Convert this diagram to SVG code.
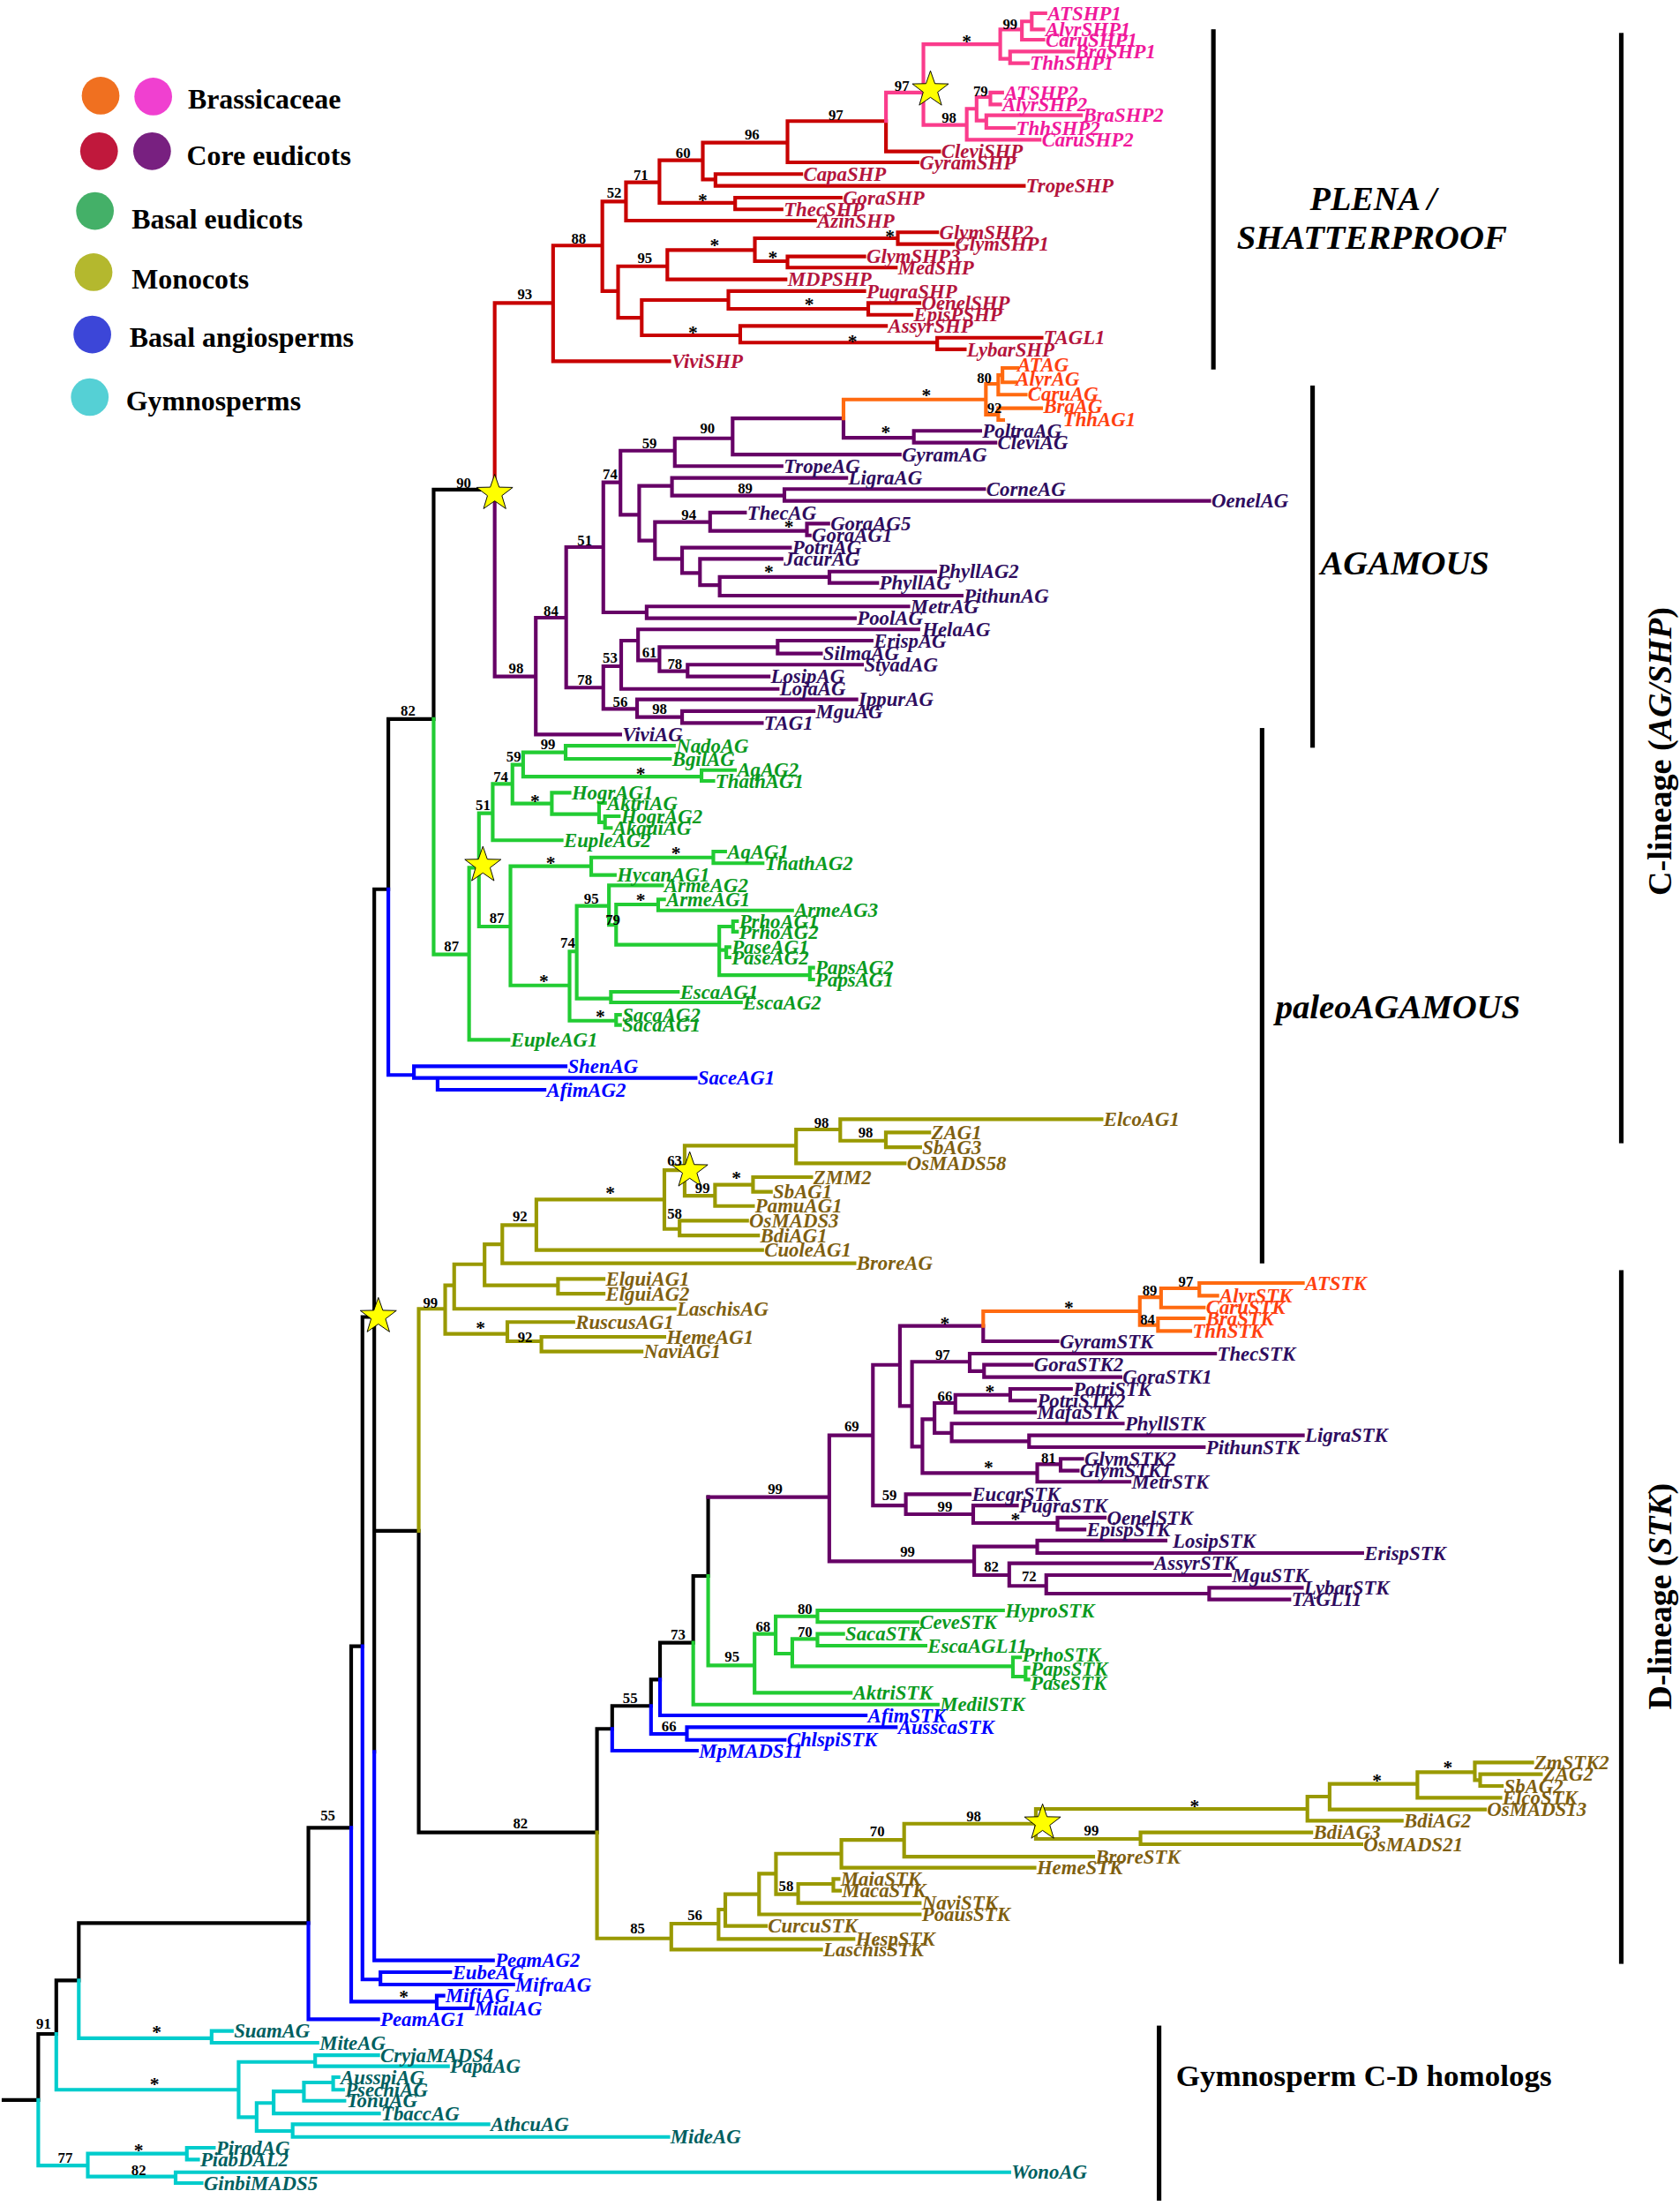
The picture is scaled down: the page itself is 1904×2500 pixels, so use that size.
<svg xmlns="http://www.w3.org/2000/svg" width="1904" height="2500" viewBox="0 0 1904 2500">
<style>
.l{fill:none;stroke-width:2.6;stroke-linecap:square;stroke-linejoin:miter}
.k{stroke:#000}.r{stroke:#C80000}.p{stroke:#FA3C8C}.o{stroke:#FF6A10}.u{stroke:#660066}.g{stroke:#22CC33}.bl{stroke:#0000FF}.ol{stroke:#999900}.c{stroke:#00CCCC}
text{font-family:"Liberation Serif","Times New Roman",serif}
.t text{font-weight:bold;font-style:italic;font-size:14.3px}
.tp{fill:#F0199B}.tr{fill:#B4143C}.to{fill:#FF4010}.tu{fill:#2E0C5E}.tg{fill:#0A9A1E}.tb{fill:#0000FF}.tol{fill:#7F5F10}.tc{fill:#005F5F}
.n text{font-weight:bold;font-size:10.5px;text-anchor:middle;fill:#000}
.a text{font-weight:bold;font-size:13.5px;text-anchor:middle;fill:#000}
.lg text{font-weight:bold;font-size:20px;fill:#000}
.hd{font-weight:bold;font-style:italic;font-size:24px;fill:#000}
.star{fill:#FFFF00;stroke:#000;stroke-width:0.6}
</style>
<defs>
<polygon id="star" class="star" points="0,-13.5 3.17,-4.37 12.84,-4.17 5.13,1.67 7.94,10.92 0,5.4 -7.94,10.92 -5.13,1.67 -12.84,-4.17 -3.17,-4.37"/>
</defs>
<rect width="1904" height="2500" fill="#fff"/>
<g transform="scale(1.5946)">
<g id="legend" class="lg">
<circle cx="71.5" cy="68" r="13.4" fill="#F07020"/><circle cx="108.9" cy="68.6" r="13.4" fill="#F040D0"/>
<circle cx="70.4" cy="107.4" r="13.4" fill="#C0183C"/><circle cx="108.1" cy="107.4" r="13.4" fill="#782080"/>
<circle cx="67.5" cy="149.9" r="13.4" fill="#44B068"/>
<circle cx="66.5" cy="193.4" r="13.4" fill="#B4B82E"/>
<circle cx="65.6" cy="237.7" r="13.4" fill="#3C46D8"/>
<circle cx="63.8" cy="282.2" r="13.4" fill="#55D0D5"/>
<text x="133.5" y="77.3">Brassicaceae</text>
<text x="132.7" y="117.5">Core eudicots</text>
<text x="93.6" y="162.6">Basal eudicots</text>
<text x="93.6" y="205.3">Monocots</text>
<text x="92" y="246.7">Basal angiosperms</text>
<text x="89.5" y="291.6">Gymnosperms</text>
</g>
<g id="connectors">
<path class="l k" d="M2.5 1492.5H27.2M27.2 1445.5V1492.5M27.2 1445.5H40M40 1407.5V1445.5M40 1407.5H56M56 1366.7V1407.5M56 1366.7H219.2M219.2 1299V1366.7M219.2 1299H249.6M249.6 1170V1299M249.6 1170H257.6M257.6 936V1170M257.6 936H266M266 632V1245M266 632H276M276 511V632M276 511H308.2M308.2 348V511M308.2 348H351.6M266 1088H297.6M297.6 1088V1302.3M297.6 1302.3H424.3M424.3 1228.7V1302.3M424.3 1228.7H435.1M435.1 1212.4V1228.7M435.1 1212.4H462.7M462.7 1193.6V1212.4M462.7 1193.6H469.1M469.1 1167.5V1193.6M469.1 1167.5H492.7M492.7 1120V1167.5M492.7 1120H503.3M503.3 1064V1120"/>
<path class="l r" d="M351.6 215.3V348M351.6 215.3H393.1M393.1 174.5V256.7M393.1 174.5H428.1M393.1 256.7H475.7M428.1 143.2V206.9M428.1 143.2H444.9M428.1 206.9H439.3M444.9 129.6V156.8M444.9 156.8H579.3M444.9 129.6H468.7M468.7 113.9V144.2M468.7 113.9H499.5M468.7 144.2H522.5M522.5 140.5V148.8M522.5 140.5H597.5M522.5 148.8H555.5M499.5 101.4V127.5M499.5 101.4H559.7M499.5 127.5H508.5M508.5 123.7V132.1M508.5 123.7H569.5M508.5 132.1H727.7M559.7 86.1V115.4M559.7 86.1H629.7M559.7 115.4H652.1M629.7 86.1V107.6M629.7 107.6H667.5M439.3 189.2V225.8M439.3 189.2H474.3M439.3 225.8H456.1M474.3 177.7V198.6M474.3 177.7H536.5M474.3 198.6H558.3M536.5 169.3V185.6M536.5 169.3H638.1M536.5 185.6H559.7M638.1 165.1V173.5M638.1 165.1H666.1M638.1 173.5H677.3M559.7 182.3V190.2M559.7 182.3H614.3M559.7 190.2H636.7M456.1 213.2V238.3M456.1 213.2H517.7M456.1 238.3H526.1M517.7 206.9V219.5M517.7 206.9H614.3M517.7 219.5H617.1M617.1 215.3V223.7M617.1 215.3H653.5M617.1 223.7H647.9M526.1 231.6V243.5M526.1 231.6H629.7M526.1 243.5H666.1M666.1 240V248.3M666.1 240H740.3M666.1 248.3H685.7"/>
<path class="l p" d="M629.7 65.8V86.1M629.7 65.8H656.3M656.3 31.4V88.8M656.3 31.4H710.9M656.3 88.8H687.1M710.9 20.9V41.8M710.9 20.9H726.3M710.9 41.8H717.9M726.3 15.2V28.2M726.3 15.2H733.3M733.3 9.4V20.9M733.3 9.4H743M733.3 20.9H741.6M726.3 28.2H741.6M717.9 36.6V44.9M717.9 36.6H762.7M717.9 44.9H730.5M687.1 77.3V99.3M687.1 77.3H694.1M687.1 99.3H738.9M694.1 69V85.7M694.1 69H703.9M694.1 85.7H701M703.9 65.8V74.2M703.9 65.8H712.3M703.9 74.2H710.9M701 81.9V90.9M701 81.9H768.3M701 90.9H720.7"/>
<path class="l u" d="M351.6 348V480.8M351.6 480.8H380.8M380.8 439V522M380.8 439H402.4M380.8 522H440.8M402.4 388.8V488.7M402.4 388.8H428.8M402.4 488.7H428.8M428.8 342.8V435.2M428.8 342.8H441M428.8 435.2H459.6M459.6 431V439.4M459.6 431H645.6M459.6 439.4H607.6M441 320.3V365.8M441 320.3H479.6M441 365.8H454.3M479.6 311.5V331.3M479.6 311.5H520.7M479.6 331.3H555.5M520.7 297.3V323M520.7 297.3H599.5M520.7 323H639.5M599.5 297.3V311.1M599.5 311.1H649.5M649.5 306.2V314.6M649.5 306.2H696.7M649.5 314.6H707.5M454.3 345.3V384.2M454.3 345.3H477.6M454.3 384.2H465.5M477.6 339.7V352.2M477.6 339.7H601.5M477.6 352.2H557.5M557.5 347.6V356M557.5 347.6H699.5M557.5 356H859.5M465.5 371V397.2M465.5 371H504.7M465.5 397.2H484.8M504.7 364.3V377.3M504.7 364.3H529.5M504.7 377.3H573.5M573.5 372.1V380.5M573.5 372.1H588.7M573.5 380.5H575.5M484.8 389.2V407.2M484.8 389.2H561.5M484.8 407.2H497.5M497.5 397.2V415.9M497.5 397.2H555.5M497.5 415.9H511.5M511.5 410.1V423.3M511.5 410.1H589.5M511.5 423.3H683.5M589.5 406.2V414.3M589.5 406.2H664.7M589.5 414.3H623.5M428.8 473.5V503.8M428.8 473.5H441.5M428.8 503.8H452.8M441.5 455.3V489.6M441.5 455.3H453.5M441.5 489.6H552.7M453.5 447.3V469.3M453.5 447.3H652.7M453.5 469.3H468.7M468.7 459.9V477M468.7 459.9H552.7M468.7 477H488.7M552.7 455.3V464.5M552.7 455.3H619.5M552.7 464.5H583.5M488.7 472.4V480.8M488.7 472.4H612.7M488.7 480.8H546.3M452.8 497.1V509.6M452.8 497.1H608.7M452.8 509.6H484.8M484.8 505.4V513.8M484.8 505.4H578.3M484.8 513.8H541.5"/>
<path class="l u" d="M503.3 1064H589.4M589.4 1020.1V1109.6M589.4 1020.1H620.4M589.4 1109.6H692.4M620.4 970V1069.9M620.4 970H639.6M620.4 1069.9H643.8M639.6 942.3V999.2M639.6 942.3H698.8M639.6 999.2H648.2M698.8 942.3V953.2M698.8 953.2H751.6M648.2 967.8V1028.1M648.2 967.8H689.2M648.2 1028.1H655.6M689.2 962V974.5M689.2 962H863.6M689.2 974.5H699.4M699.4 969.9V978.7M699.4 969.9H733.3M699.4 978.7H796.4M655.6 1008.6V1046.9M655.6 1008.6H664.2M655.6 1046.9H737.2M664.2 997.1V1018.4M664.2 997.1H679M664.2 1018.4H676.4M679 991.3V1003.8M679 991.3H718M679 1003.8H735.6M718 987.1V995.4M718 987.1H761.2M718 995.4H735.6M676.4 1011.7V1024.3M676.4 1011.7H798M676.4 1024.3H731.4M731.4 1020.1V1028.5M731.4 1020.1H926M731.4 1028.5H855.6M737.2 1040.6V1053.1M737.2 1040.6H753.8M737.2 1053.1H802.8M753.8 1036.8V1045.2M753.8 1036.8H769.2M753.8 1045.2H766M643.8 1061.9V1076.1M643.8 1061.9H689.2M643.8 1076.1H691.7M691.7 1069.9V1082.4M691.7 1069.9H722.8M691.7 1082.4H751.6M751.6 1078.6V1087M751.6 1078.6H785.2M751.6 1087H770.8M692.4 1099.1V1119.4M692.4 1099.1H737.2M692.4 1119.4H717.3M737.2 1094.9V1103.7M737.2 1094.9H828.4M737.2 1103.7H968.2M717.3 1111V1127.1M717.3 1111H818.8M717.3 1127.1H743.6M743.6 1119.4V1132.6M743.6 1119.4H874.1M743.6 1132.6H859.4M859.4 1128.4V1136.7M859.4 1128.4H925.3M859.4 1136.7H916.4"/>
<path class="l o" d="M599.5 283.9V297.3M599.5 283.9H700.7M700.7 272.8V294.7M700.7 272.8H709.5M709.5 266.6V280.5M709.5 266.6H712.5M712.5 261.5V271.7M712.5 261.5H723M712.5 271.7H722M709.5 280.5H729M700.7 294.7H709.5M709.5 290.1V298.5M709.5 290.1H740M709.5 298.5H713M698.8 931.9V942.3M698.8 931.9H810.1M810.1 921.9V941.7M810.1 921.9H825.2M810.1 941.7H823M825.2 915.6V929.2M825.2 915.6H852.4M825.2 929.2H855.6M852.4 911.8V920.8M852.4 911.8H926M852.4 920.8H865.2M823 936.9V945.9M823 936.9H855.6M823 945.9H846"/>
<path class="l g" d="M308.2 511V678.3M308.2 678.3H333.4M333.4 616.7V739M333.4 616.7H340.4M333.4 739H361.4M340.4 578V658.5M340.4 578H350.2M340.4 658.5H362.8M350.2 557.1V597.2M350.2 557.1H364.2M350.2 597.2H399.2M364.2 543.5V571.1M364.2 543.5H371.8M364.2 571.1H392.2M371.8 534.7V551.9M371.8 534.7H402M371.8 551.9H498.6M402 530V539.3M402 530H479M402 539.3H476.2M498.6 547.3V555M498.6 547.3H522.4M498.6 555H507M392.2 563.4V578.6M392.2 563.4H404.8M392.2 578.6H425.8M425.8 570.7V584.4M425.8 570.7H430M425.8 584.4H430M430 580.1V588.4M430 580.1H439.8M430 588.4H434.2M362.8 615.6V700.3M362.8 615.6H420.2M362.8 700.3H404.8M420.2 609.4V621.9M420.2 609.4H507M420.2 621.9H437M507 605.2V613.5M507 605.2H515.4M507 613.5H542M404.8 676.2V725.4M404.8 676.2H409.9M404.8 725.4H437.9M409.9 643.8V709.7M409.9 643.8H432.8M409.9 709.7H434.2M432.8 629.2V657.4M432.8 629.2H470.6M432.8 657.4H437.9M437.9 642.8V671.4M437.9 642.8H467.8M437.9 671.4H511.2M467.8 639.2V647M467.8 639.2H472M467.8 647H563M511.2 658.5V693M511.2 658.5H521M511.2 675.2H516.2M511.2 693H575.6M521 654.7V662.2M521 654.7H523.8M521 662.2H523.8M516.2 673.1V680.4M516.2 673.1H518.5M516.2 680.4H518.5M575.6 687.7V696.1M575.6 687.7H578M575.6 696.1H578M434.2 704.9V712.4M434.2 704.9H481.8M434.2 712.4H526.6M437.9 721.2V728.5M437.9 721.2H440.7M437.9 728.5H440.7"/>
<path class="l g" d="M492.7 1167.5V1211.4M492.7 1211.4H666.5M503.3 1120V1183.6M503.3 1183.6H536.3M536.3 1161.2V1203M536.3 1161.2H551.3M536.3 1203H604.7M551.3 1148.7V1175.2M551.3 1148.7H581M551.3 1175.2H563.1M581 1144.5V1152.8M581 1144.5H712.9M581 1152.8H652.1M563.1 1164.8V1184.2M563.1 1164.8H581M563.1 1184.2H719.9M581 1161.2V1169.6M581 1161.2H599.3M581 1169.6H657.8M719.9 1177.9V1191.5M719.9 1177.9H725M719.9 1191.5H728.9M728.9 1185.2V1193.6M728.9 1185.2H731M728.9 1193.6H731"/>
<path class="l bl" d="M276 632V764M276 764H294.2M294.2 757.8V766.1M294.2 757.8H402M294.2 766.1H311M311 766.1V774.5M311 766.1H494.4M311 774.5H387M219.2 1366.7V1435.1M219.2 1435.1H268.8M249.6 1299V1422.5M249.6 1422.5H310.4M310.4 1418.3V1427.3M310.4 1418.3H315.2M310.4 1427.3H336M257.6 1170V1406.8M257.6 1406.8H270.4M270.4 1401.6V1410.4M270.4 1401.6H320M270.4 1410.4H364.8M266 1245V1393.2M266 1393.2H350.4M435.1 1228.7V1244.2M435.1 1244.2H495.3M462.7 1212.4V1232.3M462.7 1232.3H488.2M488.2 1227.5V1236.5M488.2 1227.5H636.7M488.2 1236.5H557.7M469.1 1193.6V1219.1M469.1 1219.1H615.3"/>
<path class="l ol" d="M297.6 930.2V1088M297.6 930.2H316.4M316.4 913.5V948M316.4 913.5H322.8M316.4 948H360.6M322.8 898.5V930.2M322.8 898.5H344.4M322.8 930.2H479.5M344.4 884.3V913.5M344.4 884.3H357M344.4 913.5H396.6M396.6 908.9V919.4M396.6 908.9H429M396.6 919.4H429M357 870.7V897.8M357 870.7H381.2M357 897.8H607.3M381.2 852.5V888.4M381.2 852.5H472.2M381.2 888.4H541.7M472.2 831.6V873.4M472.2 831.6H486.6M472.2 873.4H483M483 867.5V878M483 867.5H531M483 878H538.8M486.6 814.2V849.8M486.6 814.2H565.8M486.6 849.8H508.2M508.2 842V857.1M508.2 842H535.2M508.2 857.1H535.2M535.2 836.6V847M535.2 836.6H576.6M535.2 847H547.9M565.8 802.7V826.8M565.8 802.7H597.2M565.8 826.8H643M597.2 795.4V810.7M597.2 795.4H782.9M597.2 810.7H629.6M629.6 804.8V815.3M629.6 804.8H660.5M629.6 815.3H654M360.6 939.6V953.2M360.6 939.6H407.5M360.6 953.2H384.8M384.8 950.1V960.5M384.8 950.1H472.2M384.8 960.5H456"/>
<path class="l ol" d="M424.3 1302.3V1377.6M424.3 1377.6H477.1M477.1 1367.1V1385.5M477.1 1367.1H510.7M477.1 1385.5H583.6M510.7 1357.1V1378M510.7 1357.1H515.5M510.7 1378H606.6M515.5 1346.2V1368.8M515.5 1346.2H539.5M515.5 1368.8H544.3M539.5 1331.6V1360.5M539.5 1331.6H551.5M539.5 1360.5H653.7M551.5 1317.4V1346.2M551.5 1317.4H598M551.5 1346.2H567.3M567.3 1338.9V1352.5M567.3 1338.9H592.3M567.3 1352.5H653.7M592.3 1335.4V1343.7M592.3 1335.4H596M592.3 1343.7H597M598 1307.6V1327.4M598 1307.6H642.6M598 1327.4H735.3M642.6 1296.1V1319.5M642.6 1296.1H736.2M642.6 1319.5H777M736.2 1285.6V1306.9M736.2 1285.6H929.2M736.2 1306.9H810.6M810.6 1302.3V1310.7M810.6 1302.3H932M810.6 1310.7H967.6M929.2 1276.8V1294M929.2 1276.8H945M929.2 1294H996.3M945 1267.8V1286M945 1267.8H1007.4M945 1286H1055.4M1007.4 1259.5V1277.7M1007.4 1259.5H1048.2M1007.4 1277.7H1066.4M1048.2 1252.6V1265.1M1048.2 1252.6H1089M1048.2 1265.1H1052M1052 1260.9V1269.3M1052 1260.9H1095.2M1052 1269.3H1067.4"/>
<path class="l c" d="M27.2 1492.5V1539M27.2 1539H62.4M62.4 1530.6V1546.9M62.4 1530.6H132.8M62.4 1546.9H124.8M132.8 1526.4V1534.8M132.8 1526.4H152M132.8 1534.8H140.8M124.8 1543.8V1551.5M124.8 1543.8H717.4M124.8 1551.5H143.3M40 1445.5V1485.2M40 1485.2H169.6M169.6 1465.4V1504.7M169.6 1465.4H224M169.6 1504.7H182.4M224 1460.6V1468.5M224 1460.6H268.8M224 1468.5H318.4M182.4 1494.6V1514.5M182.4 1494.6H194.5M182.4 1514.5H208M194.5 1486.3V1502M194.5 1486.3H216M194.5 1502H269.4M216 1480V1493M216 1480H236.8M216 1493H244.8M236.8 1476.2V1485.2M236.8 1476.2H240.6M236.8 1485.2H243.8M208 1509.7V1518.7M208 1509.7H347.2M208 1518.7H475M56 1407.5V1448.6M56 1448.6H150.4M150.4 1443.4V1451.8M150.4 1443.4H164.8M150.4 1451.8H225.6"/>
</g>
<g id="stars">
<use href="#star" x="661.3" y="63.8"/>
<use href="#star" x="351.6" y="350.6"/>
<use href="#star" x="343.2" y="615"/>
<use href="#star" x="490.2" y="832"/>
<use href="#star" x="268.9" y="935.6"/>
<use href="#star" x="741" y="1295.5"/>
</g>
<g id="leaves" class="t" transform="translate(1.5,4.8)">
<g class="tp">
<text id="ATSHP1" x="743" y="9.4">ATSHP1</text><text id="AlyrSHP1" x="741.6" y="20.9">AlyrSHP1</text><text id="CaruSHP1" x="741.6" y="28.2">CaruSHP1</text><text id="BraSHP1" x="762.7" y="36.6">BraSHP1</text><text id="ThhSHP1" x="730.5" y="44.9">ThhSHP1</text><text id="ATSHP2" x="712.3" y="65.8">ATSHP2</text><text id="AlyrSHP2" x="710.9" y="74.2">AlyrSHP2</text><text id="BraSHP2" x="768.3" y="81.9">BraSHP2</text><text id="ThhSHP2" x="720.7" y="90.9">ThhSHP2</text><text id="CaruSHP2" x="738.9" y="99.3">CaruSHP2</text>
</g>
<g class="tr">
<text x="667.5" y="107.6">CleviSHP</text><text x="652.1" y="115.4">GyramSHP</text><text x="569.5" y="123.7">CapaSHP</text><text x="727.7" y="132.1">TropeSHP</text><text x="597.5" y="140.5">GoraSHP</text><text x="555.5" y="148.8">ThecSHP</text><text x="579.3" y="156.8">AzinSHP</text><text x="666.1" y="165.1">GlymSHP2</text><text x="677.3" y="173.5">GlymSHP1</text><text x="614.3" y="182.3">GlymSHP3</text><text x="636.7" y="190.2">MedSHP</text><text x="558.3" y="198.6">MDPSHP</text><text x="614.3" y="206.9">PugraSHP</text><text x="653.5" y="215.3">OenelSHP</text><text x="647.9" y="223.7">EpisPSHP</text><text x="629.7" y="231.6">AssyrSHP</text><text x="740.3" y="240">TAGL1</text><text x="685.7" y="248.3">LybarSHP</text><text x="475.7" y="256.7">ViviSHP</text>
</g>
<g class="to">
<text x="721.5" y="259">ATAG</text><text x="720.5" y="269.5">AlyrAG</text><text x="729" y="280">CaruAG</text><text x="740" y="289">BraAG</text><text x="754" y="298">ThhAG1</text>
<text x="926" y="911.8">ATSTK</text><text x="865.2" y="920.8">AlyrSTK</text><text x="855.6" y="929.2">CaruSTK</text><text x="855.6" y="936.9">BraSTK</text><text x="846" y="945.9">ThhSTK</text>
</g>
<g class="tu">
<text x="696.7" y="306.2">PoltraAG</text><text x="707.5" y="314.6">CleviAG</text><text x="639.5" y="323">GyramAG</text><text x="555.5" y="331.3">TropeAG</text><text x="601.5" y="339.7">LigraAG</text><text x="699.5" y="347.6">CorneAG</text><text x="859.5" y="356">OenelAG</text><text x="529.5" y="364.3">ThecAG</text><text x="588.7" y="372.1">GoraAG5</text><text x="575.5" y="380.5">GoraAG1</text><text x="561.5" y="389.2">PotriAG</text><text x="555.5" y="397.2">JacurAG</text><text x="664.7" y="406.2">PhyllAG2</text><text x="623.5" y="414.3">PhyllAG</text><text x="683.5" y="423.3">PithunAG</text><text x="645.6" y="431">MetrAG</text><text x="607.6" y="439.4">PoolAG</text><text x="654" y="447.3">HelaAG</text><text x="619.5" y="455.3">ErispAG</text><text x="583.5" y="464.5">SilmaAG</text><text x="612.7" y="472.4">StyadAG</text><text x="546.3" y="480.8">LosipAG</text><text x="552.7" y="489.6">LojaAG</text><text x="608.7" y="497.1">IppurAG</text><text x="578.3" y="505.4">MguAG</text><text x="541.5" y="513.8">TAG1</text><text x="440.8" y="522">ViviAG</text>
<text x="751.6" y="953.2">GyramSTK</text><text x="863.6" y="962">ThecSTK</text><text x="733.3" y="969.9">GoraSTK2</text><text x="796.4" y="978.7">GoraSTK1</text><text x="761.2" y="987.1">PotriSTK</text><text x="735.6" y="995.4">PotriSTK2</text><text x="735.6" y="1003.8">MafaSTK</text><text x="798" y="1011.7">PhyllSTK</text><text x="926" y="1020.1">LigraSTK</text><text x="855.6" y="1028.5">PithunSTK</text><text x="769.2" y="1036.8">GlymSTK2</text><text x="766" y="1045.2">GlymSTK1</text><text x="802.8" y="1053.1">MetrSTK</text><text x="689.2" y="1061.9">EucgrSTK</text><text x="722.8" y="1069.9">PugraSTK</text><text x="785.2" y="1078.6">OenelSTK</text><text x="770.8" y="1087">EpispSTK</text><text x="832" y="1094.9">LosipSTK</text><text x="968.2" y="1103.7">ErispSTK</text><text x="818.8" y="1111">AssyrSTK</text><text x="874.1" y="1119.4">MguSTK</text><text x="925.3" y="1128.4">LybarSTK</text><text x="916.4" y="1136.7">TAGL11</text>
</g>
<g class="tg">
<text x="479" y="530">NadoAG</text><text x="476.2" y="539.3">BgilAG</text><text x="522.4" y="547.3">AqAG2</text><text x="507" y="555">ThathAG1</text><text x="404.8" y="563.4">HogrAG1</text><text x="430" y="570.7">AktriAG</text><text x="439.8" y="580.1">HogrAG2</text><text x="434.2" y="588.4">AkquiAG</text><text x="399.2" y="597.2">EupleAG2</text><text x="515.4" y="605.2">AqAG1</text><text x="542" y="613.5">ThathAG2</text><text x="437" y="621.9">HycanAG1</text><text x="470.6" y="629.2">ArmeAG2</text><text x="472" y="639.2">ArmeAG1</text><text x="563" y="647">ArmeAG3</text><text x="523.8" y="654.7">PrhoAG1</text><text x="523.8" y="662.2">PrhoAG2</text><text x="518.5" y="673.1">PaseAG1</text><text x="518.5" y="680.4">PaseAG2</text><text x="578" y="687.7">PapsAG2</text><text x="578" y="696.1">PapsAG1</text><text x="481.8" y="704.9">EscaAG1</text><text x="526.6" y="712.4">EscaAG2</text><text x="440.7" y="721.2">SacaAG2</text><text x="440.7" y="728.5">SacaAG1</text><text x="361.4" y="739">EupleAG1</text>
<text x="712.9" y="1144.5">HyproSTK</text><text x="652.1" y="1152.8">CeveSTK</text><text x="599.3" y="1161.2">SacaSTK</text><text x="657.8" y="1169.6">EscaAGL11</text><text x="725" y="1176">PrhoSTK</text><text x="731" y="1186">PapsSTK</text><text x="731" y="1196">PaseSTK</text><text x="604.7" y="1203">AktriSTK</text><text x="666.5" y="1211.4">MedilSTK</text>
</g>
<g class="tb">
<text x="402" y="757.8">ShenAG</text><text x="494.4" y="766.1">SaceAG1</text><text x="387" y="774.5">AfimAG2</text>
<text x="615.3" y="1219.1">AfimSTK</text><text x="636.7" y="1227.5">AusscaSTK</text><text x="557.7" y="1236.5">ChlspiSTK</text><text x="495.3" y="1244.2">MpMADS11</text>
<text x="350.4" y="1393.2">PeamAG2</text><text x="320" y="1401.6">EubeAG</text><text x="364.8" y="1410.4">MifraAG</text><text x="315.2" y="1418.3">MifiAG</text><text x="336" y="1427.3">MialAG</text><text x="268.8" y="1435.1">PeamAG1</text>
</g>
<g class="tol">
<text x="782.9" y="795.4">ElcoAG1</text><text x="660.5" y="804.8">ZAG1</text><text x="654" y="815.3">SbAG3</text><text x="643" y="826.8">OsMADS58</text><text x="576.6" y="836.6">ZMM2</text><text x="547.9" y="847">SbAG1</text><text x="535.2" y="857.1">PamuAG1</text><text x="531" y="867.5">OsMADS3</text><text x="538.8" y="878">BdiAG1</text><text x="541.7" y="888.4">CuoleAG1</text><text x="607.3" y="897.8">BroreAG</text><text x="429" y="908.9">ElguiAG1</text><text x="429" y="919.4">ElguiAG2</text><text x="479.5" y="930.2">LaschisAG</text><text x="407.5" y="939.6">RuscusAG1</text><text x="472.2" y="950.1">HemeAG1</text><text x="456" y="960.5">NaviAG1</text>
<text x="1089" y="1252.6">ZmSTK2</text><text x="1095.2" y="1260.9">ZAG2</text><text x="1067.4" y="1269.3">SbAG2</text><text x="1066.4" y="1277.7">ElcoSTK</text><text x="1055.4" y="1286">OsMADS13</text><text x="996.3" y="1294">BdiAG2</text><text x="932" y="1302.3">BdiAG3</text><text x="967.6" y="1310.7">OsMADS21</text><text x="777" y="1319.5">BroreSTK</text><text x="735.3" y="1327.4">HemeSTK</text><text x="596" y="1335.4">MaiaSTK</text><text x="597" y="1343.7">MacaSTK</text><text x="653.7" y="1352.5">NaviSTK</text><text x="653.7" y="1360.5">PoausSTK</text><text x="544.3" y="1368.8">CurcuSTK</text><text x="606.6" y="1378">HespSTK</text><text x="583.6" y="1385.5">LaschisSTK</text>
</g>
<g class="tc">
<text x="164.8" y="1443.4">SuamAG</text><text x="225.6" y="1451.8">MiteAG</text><text x="268.8" y="1460.6">CryjaMADS4</text><text x="318.4" y="1468.5">PapaAG</text><text x="240.6" y="1476.2">AusspiAG</text><text x="243.8" y="1485.2">PsechiAG</text><text x="244.8" y="1493">TonuAG</text><text x="269.4" y="1502">TbaccAG</text><text x="347.2" y="1509.7">AthcuAG</text><text x="475" y="1518.7">MideAG</text><text x="152" y="1526.4">PiradAG</text><text x="140.8" y="1534.8">PiabDAL2</text><text x="717.4" y="1543.8">WonoAG</text><text x="143.3" y="1551.5">GinbiMADS5</text>
</g>
</g>
<g id="support" class="n" transform="translate(0,3.7)">
<text x="373" y="209">93</text><text x="411.3" y="169.3">88</text><text x="436.5" y="136.9">52</text><text x="455.5" y="124.4">71</text><text x="485.5" y="108.7">60</text><text x="534.5" y="95.5">96</text><text x="594.1" y="81.5">97</text><text x="641" y="60.6">97</text><text x="674.5" y="83.6">98</text><text x="717.9" y="16.7">99</text><text x="696.9" y="64.8">79</text><text x="458.3" y="183.5">95</text>
<text x="329.6" y="342.8">90</text><text x="366.8" y="474.5">98</text><text x="391.6" y="433.8">84</text><text x="415.6" y="383.6">51</text><text x="415.6" y="482.9">78</text><text x="433.6" y="336.6">74</text><text x="461.6" y="314.6">59</text><text x="502.8" y="304.2">90</text><text x="529.6" y="346.6">89</text><text x="489.6" y="365.4">94</text><text x="433.6" y="467.2">53</text><text x="461.6" y="463.6">61</text><text x="479.6" y="471.4">78</text><text x="440.8" y="498.6">56</text><text x="468.8" y="503.8">98</text><text x="699.6" y="268.6">80</text><text x="706.8" y="290.1">92</text>
<text x="290" y="505">82</text><text x="320.9" y="672.1">87</text><text x="353.1" y="652.2">87</text><text x="343.3" y="571.7">51</text><text x="355.9" y="551.9">74</text><text x="365.1" y="537.2">59</text><text x="389.5" y="528.9">99</text><text x="420.3" y="638.6">95</text><text x="435.6" y="653.3">79</text><text x="403.5" y="670">74</text>
<text x="305.9" y="925.6">99</text><text x="369.6" y="864.4">92</text><text x="479.5" y="824.7">63</text><text x="479.5" y="862.3">58</text><text x="499.3" y="844.1">99</text><text x="583.9" y="797.5">98</text><text x="615.2" y="804.8">98</text><text x="373.2" y="950.1">92</text>
<text x="842.8" y="910.4">97</text><text x="817.2" y="916.6">89</text><text x="815.6" y="937.5">84</text><text x="670" y="962.6">97</text><text x="671.6" y="991.9">66</text><text x="605.4" y="1013.8">69</text><text x="745.2" y="1035.8">81</text><text x="632.2" y="1062.3">59</text><text x="671.6" y="1070.3">99</text><text x="645" y="1102.3">99</text><text x="704.6" y="1113.1">82</text><text x="731.4" y="1120.4">72</text><text x="551" y="1058">99</text>
<text x="572.1" y="1143.4">80</text><text x="542.3" y="1155.6">68</text><text x="572.1" y="1159.7">70</text><text x="481.9" y="1161.2">73</text><text x="520.3" y="1176.9">95</text><text x="447.9" y="1206.6">55</text><text x="475.5" y="1226.6">66</text><text x="369.9" y="1296">82</text>
<text x="692.1" y="1290.8">98</text><text x="623.5" y="1301.3">70</text><text x="775.7" y="1300.7">99</text><text x="558.7" y="1340">58</text><text x="493.9" y="1360.9">56</text><text x="453.1" y="1370.3">85</text>
<text x="233" y="1290">55</text><text x="31" y="1438.2">91</text><text x="46.4" y="1533.3">77</text><text x="98.6" y="1542.3">82</text>
</g>
<g id="asterisks" class="a" transform="translate(0,6.5)">
<text x="687.1" y="27.2">*</text><text x="499.5" y="140">*</text><text x="507.9" y="172.4">*</text><text x="632.5" y="166.2">*</text><text x="549.3" y="180.8">*</text><text x="575.1" y="214.2">*</text><text x="492.5" y="234.1">*</text><text x="605.9" y="240.4">*</text>
<text x="658.4" y="279.1">*</text><text x="629.6" y="305.2">*</text><text x="560.8" y="372.1">*</text><text x="546.4" y="404.5">*</text>
<text x="455.3" y="547.7">*</text><text x="380.2" y="567.5">*</text><text x="391.4" y="611.4">*</text><text x="480.5" y="604.1">*</text><text x="455.3" y="637.6">*</text><text x="386.6" y="695">*</text><text x="426.7" y="720.1">*</text>
<text x="433.7" y="845.6">*</text><text x="523.4" y="835.1">*</text><text x="341.6" y="941.7">*</text>
<text x="759.6" y="927.1">*</text><text x="671.6" y="938.6">*</text><text x="703.6" y="986.7">*</text><text x="702.6" y="1041">*</text><text x="721.8" y="1077.6">*</text>
<text x="849.1" y="1281.8">*</text><text x="978.7" y="1263.7">*</text><text x="1029.1" y="1254.3">*</text>
<text x="287" y="1417.3">*</text><text x="111.4" y="1442.4">*</text><text x="109.8" y="1479">*</text><text x="98.6" y="1526">*</text>
</g>
<g id="annotations">
<g id="shp-bar"><rect x="860.8" y="20.8" width="3.2" height="241.8" fill="#000"/>
<text class="hd" x="976" y="149" text-anchor="middle">PLENA /</text>
<text class="hd" x="975" y="177" text-anchor="middle" textLength="192" lengthAdjust="spacingAndGlyphs">SHATTERPROOF</text></g>
<g id="ag-bar"><rect x="931.3" y="274" width="3.2" height="257.4" fill="#000"/>
<text class="hd" x="938.5" y="408" textLength="120" lengthAdjust="spacingAndGlyphs">AGAMOUS</text></g>
<g id="paleo-bar"><rect x="895.4" y="517.4" width="3.2" height="380.5" fill="#000"/>
<text class="hd" x="906.6" y="724" textLength="174" lengthAdjust="spacingAndGlyphs">paleoAGAMOUS</text></g>
<g id="c-lineage"><rect x="1150.7" y="23.4" width="3.2" height="789.1" fill="#000"/>
<text transform="translate(1188,534) rotate(-90)" text-anchor="middle" font-weight="bold" font-size="24" textLength="205" lengthAdjust="spacingAndGlyphs">C-lineage (<tspan font-style="italic">AG/SHP</tspan>)</text></g>
<g id="d-lineage"><rect x="1150.7" y="902.7" width="3.2" height="493" fill="#000"/>
<text transform="translate(1188,1134.6) rotate(-90)" text-anchor="middle" font-weight="bold" font-size="24" textLength="161" lengthAdjust="spacingAndGlyphs">D-lineage (<tspan font-style="italic">STK</tspan>)</text></g>
<g id="gymno"><rect x="822.2" y="1439.6" width="3.2" height="124.4" fill="#000"/>
<text x="835.8" y="1482.5" font-weight="bold" font-size="21" textLength="267" lengthAdjust="spacingAndGlyphs">Gymnosperm C-D homologs</text></g>
</g>
</g>
</svg>
